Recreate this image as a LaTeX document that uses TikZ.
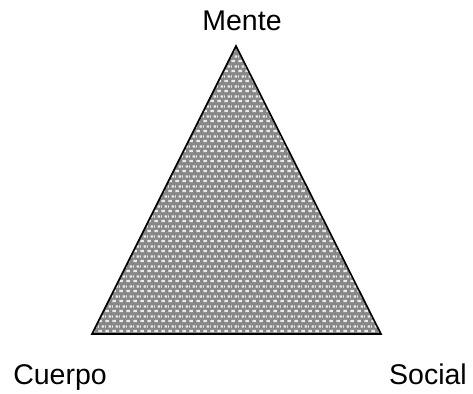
\documentclass[tikz,border=0pt]{standalone}
\usepackage{fontspec}
\setmainfont{Liberation Sans}
\usetikzlibrary{patterns, positioning}
\pgfdeclarepatternformonly{brickdash}{\pgfqpoint{0pt}{0pt}}{\pgfqpoint{7pt}{10pt}}{\pgfqpoint{7pt}{10pt}}{
    \pgfpathrectangle{\pgfqpoint{0.5pt}{1pt}}{\pgfqpoint{4pt}{2.4pt}}
    \pgfpathrectangle{\pgfqpoint{4pt}{6pt}}{\pgfqpoint{3pt}{2.4pt}}
    \pgfpathrectangle{\pgfqpoint{0pt}{6pt}}{\pgfqpoint{1pt}{2.4pt}}
    \pgfusepath{fill}
}
\begin{document}
\begin{tikzpicture}[x=1pt, y=-1pt, font=\fontsize{28.5}{33}\selectfont]
    \tikzset{
        corner/.style={anchor=base, inner sep=0pt},
        shade/.style={fill=black!47},
        dots/.style={pattern=brickdash, pattern color=white!92!black}
    }
    \useasboundingbox (0,0) rectangle (473,393);
    % vertices of the triangle
    \coordinate (top)   at (236,46);
    \coordinate (left)  at (92,334);
    \coordinate (right) at (381,334);
    \fill[shade] (top) -- (left) -- (right) -- cycle;
    \fill[dots]  (top) -- (left) -- (right) -- cycle;
    \draw[line width=1.6pt, line join=miter] (top) -- (left) -- (right) -- cycle;
    % labels
    \node[corner] (mente)  at (242,31)  {Mente};
    \node[corner] (cuerpo) at (60,384)  {Cuerpo};
    \node[corner] (social) at (428,384) {Social};
\end{tikzpicture}
\end{document}
